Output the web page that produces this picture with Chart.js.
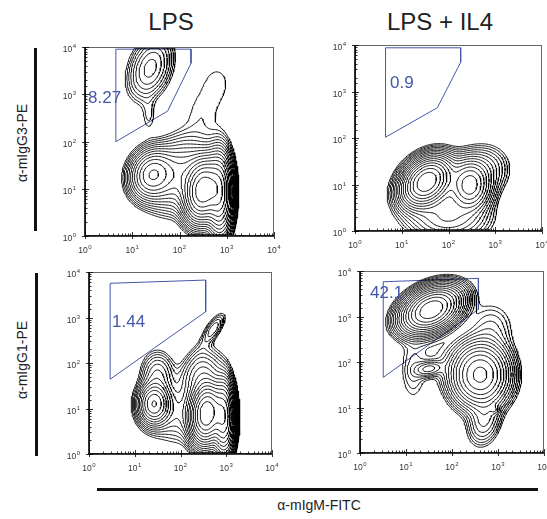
<!DOCTYPE html>
<html>
<head>
<meta charset="utf-8">
<script src="https://cdn.jsdelivr.net/npm/chart.js@4/dist/chart.umd.min.js"></script>
<style>
  body { margin: 0; background: #fff; font-family: "Liberation Sans", Arial, sans-serif; }
  #page { position: relative; width: 547px; height: 519px; overflow: hidden; }
  .abs { position: absolute; }
  .title { font-size: 24px; color: #222; transform: translateX(-50%); white-space: nowrap; }
  .ylab { font-size: 14px; color: #222; white-space: nowrap; transform: translate(-50%, -50%) rotate(-90deg); }
  .bar { background: #111; }
</style>
</head>
<body>
<div id="page"></div>
<script>
// labels
const panelTitles = ["LPS", "LPS + IL4"];
const yTitles = ["α-mIgG3-PE", "α-mIgG1-PE"];
const xTitle = "α-mIgM-FITC";
const tickExponents = { 1: "0", 10: "1", 100: "2", 1000: "3", 10000: "4" };

// cell populations, in log10 units:
// [centre x, centre y, spread x, spread y, correlation, relative peak height]
const lpsG3Pops = [
  [2.5, 0.97, 0.2, 0.33, 0.15, 1.0],
  [2.85, 0.9, 0.14, 0.45, 0.0, 0.5],
  [1.42, 1.3, 0.24, 0.27, 0.1, 0.3],
  [2.0, 1.3, 0.36, 0.4, 0.2, 0.13],
  [2.45, 2.55, 0.3, 0.4, 0.0, 0.0095],
  [2.8, 3.25, 0.3, 0.4, 0.0, 0.0095],
  [1.38, 3.55, 0.25, 0.36, 0.3, 0.08],
  [1.35, 2.55, 0.1, 0.25, 0.0, 0.012]
];
const il4G3Pops = [
  [1.53, 1.06, 0.26, 0.26, 0.3, 1.0],
  [2.46, 0.99, 0.22, 0.28, 0.0, 0.35],
  [1.9, 0.85, 0.5, 0.38, 0.1, 0.06],
  [2.8, 1.35, 0.28, 0.28, 0.0, 0.04],
  [2.0, 0.25, 0.45, 0.25, 0.0, 0.08]
];
const lpsG1Pops = [
  [1.42, 1.1, 0.18, 0.24, 0.0, 0.3],
  [2.57, 0.89, 0.18, 0.33, 0.1, 1.0],
  [2.95, 0.8, 0.12, 0.42, 0.0, 0.5],
  [1.5, 1.75, 0.2, 0.28, 0.0, 0.05],
  [2.45, 1.75, 0.25, 0.3, 0.2, 0.07],
  [2.72, 2.75, 0.15, 0.2, 0.7, 0.035],
  [2.45, 2.25, 0.15, 0.22, 0.5, 0.006],
  [2.0, 0.9, 0.45, 0.38, 0.0, 0.035]
];
const il4G1Pops = [
  [1.55, 3.15, 0.32, 0.25, 0.35, 1.0],
  [2.61, 1.72, 0.32, 0.36, 0.0, 0.45],
  [1.5, 1.85, 0.18, 0.1, 0.2, 0.05],
  [1.15, 1.8, 0.18, 0.45, 0.0, 0.015],
  [2.7, 0.7, 0.2, 0.3, 0.2, 0.05],
  [2.85, 2.75, 0.3, 0.35, 0.0, 0.02],
  [1.6, 2.2, 0.35, 0.4, 0.0, 0.008],
  [2.93, 0.95, 0.05, 0.05, 0.0, 0.03]
];

// gates (x, y in channel units) and the percentages printed in them
const lpsG3Gate = [[4.5, 9000], [175, 9000], [175, 4500], [56, 440], [4.5, 99]];
const il4G3Gate = [[4.5, 8700], [182, 8700], [182, 4250], [58, 450], [4.5, 104]];
const lpsG1Gate = [[2.9, 5650], [355, 6650], [355, 1340], [2.9, 44]];
const il4G1Gate = [[3.2, 5800], [375, 6900], [375, 1440], [3.2, 46]];
const gatePercents = ["8.27", "0.9", "1.44", "42.1"];
const gateLabelAt = [[1.16, 830], [5.6, 1500], [3.2, 800], [1.65, 3240]];

const gateColor = "#4357a6";
const page = document.getElementById("page");

function addDiv(cls, text, css) {
  const d = document.createElement("div");
  d.className = "abs " + cls;
  d.textContent = text;
  Object.assign(d.style, css);
  page.appendChild(d);
  return d;
}

// density on a grid in log space, then marching squares
const LO = -0.06, HI = 4.06, N = 140, STEP = (HI - LO) / N;

function densityGrid(pops) {
  const g = [];
  let max = 0;
  for (let j = 0; j <= N; j++) {
    const row = [];
    const y = LO + j * STEP;
    for (let i = 0; i <= N; i++) {
      const x = LO + i * STEP;
      let v = 0;
      if (x >= 0 && y >= 0 && x <= 4 && y <= 4) {
        for (const [mx, my, sx, sy, r, w] of pops) {
          const dx = (x - mx) / sx, dy = (y - my) / sy;
          const q = (dx * dx - 2 * r * dx * dy + dy * dy) / (1 - r * r);
          v += w * Math.exp(-q / 2);
        }
      }
      if (v > max) max = v;
      row.push(v);
    }
    g.push(row);
  }
  return { g, max };
}

const caseEdges = {
  1: [[3, 0]], 2: [[0, 1]], 3: [[3, 1]], 4: [[1, 2]], 6: [[0, 2]], 7: [[3, 2]],
  8: [[2, 3]], 9: [[0, 2]], 11: [[1, 2]], 12: [[1, 3]], 13: [[0, 1]], 14: [[3, 0]]
};

function contourLines(g, level) {
  const segs = [];
  const pts = {};
  for (let j = 0; j < N; j++) {
    for (let i = 0; i < N; i++) {
      const a = g[j][i], b = g[j][i + 1], c = g[j + 1][i + 1], d = g[j + 1][i];
      const idx = (a > level ? 1 : 0) | (b > level ? 2 : 0) | (c > level ? 4 : 0) | (d > level ? 8 : 0);
      if (idx === 0 || idx === 15) continue;
      let pairs = caseEdges[idx];
      if (idx === 5 || idx === 10) {
        const mid = (a + b + c + d) / 4;
        const joined = mid > level;
        if (idx === 5) pairs = joined ? [[3, 2], [0, 1]] : [[3, 0], [1, 2]];
        else pairs = joined ? [[0, 3], [1, 2]] : [[0, 1], [2, 3]];
      }
      const edge = (e) => {
        let key, x, y, t;
        if (e === 0) { t = (level - a) / (b - a); key = "h" + i + "_" + j; x = i + t; y = j; }
        else if (e === 1) { t = (level - b) / (c - b); key = "v" + (i + 1) + "_" + j; x = i + 1; y = j + t; }
        else if (e === 2) { t = (level - d) / (c - d); key = "h" + i + "_" + (j + 1); x = i + t; y = j + 1; }
        else { t = (level - a) / (d - a); key = "v" + i + "_" + j; x = i; y = j + t; }
        pts[key] = [x, y];
        return key;
      };
      for (const [e1, e2] of pairs) segs.push([edge(e1), edge(e2)]);
    }
  }
  // chain segments into polylines
  const byKey = {};
  segs.forEach((s, k) => { for (const key of s) (byKey[key] = byKey[key] || []).push(k); });
  const used = new Array(segs.length).fill(false);
  const lines = [];
  const walk = (line, key) => {
    while (true) {
      const next = (byKey[key] || []).find(k => !used[k]);
      if (next === undefined) break;
      used[next] = true;
      key = segs[next][0] === key ? segs[next][1] : segs[next][0];
      line.push(key);
    }
  };
  segs.forEach((s, k) => {
    if (used[k]) return;
    used[k] = true;
    const fwd = [s[0], s[1]];
    walk(fwd, s[1]);
    const back = [s[0]];
    walk(back, s[0]);
    const keys = back.reverse().concat(fwd.slice(1));
    lines.push(keys.map(key => {
      const [gx, gy] = pts[key];
      return { x: Math.pow(10, LO + gx * STEP), y: Math.pow(10, LO + gy * STEP) };
    }));
  });
  return lines;
}

const isMajor = v => Math.abs(Math.log10(v) - Math.round(Math.log10(v))) < 1e-9;

// frame, inward minor ticks and "10^n" tick labels
const frameTicks = {
  id: "frameTicks",
  afterDraw(chart) {
    const { ctx, chartArea: a, scales: { x, y } } = chart;
    ctx.save();
    ctx.strokeStyle = "#666";
    ctx.lineWidth = 1;
    ctx.strokeRect(a.left + 0.5, a.top + 0.5, a.right - a.left - 1, a.bottom - a.top - 1);
    ctx.strokeStyle = "#000";
    ctx.lineWidth = 1.6;
    ctx.beginPath();
    ctx.moveTo(a.left, a.top);
    ctx.lineTo(a.left, a.bottom);
    ctx.lineTo(a.right, a.bottom);
    ctx.stroke();
    ctx.lineWidth = 0.8;
    ctx.beginPath();
    x.ticks.forEach(t => {
      const px = Math.round(x.getPixelForValue(t.value)) + 0.5;
      const major = isMajor(t.value);
      ctx.moveTo(px, a.bottom + (major ? 3 : 0));
      ctx.lineTo(px, a.bottom - (major ? 4 : 2.5));
    });
    y.ticks.forEach(t => {
      const py = Math.round(y.getPixelForValue(t.value)) + 0.5;
      const major = isMajor(t.value);
      ctx.moveTo(a.left - (major ? 3 : 0), py);
      ctx.lineTo(a.left + (major ? 4 : 2.5), py);
    });
    ctx.stroke();

    ctx.fillStyle = "#333";
    ctx.textBaseline = "alphabetic";
    const base = "8.5px 'Liberation Sans', Arial, sans-serif";
    const sup = "6px 'Liberation Sans', Arial, sans-serif";
    const drawLabel = (v, right, cx, baseY) => {
      const e = tickExponents[v];
      ctx.font = base;
      const w1 = ctx.measureText("10").width;
      ctx.font = sup;
      const w2 = ctx.measureText(e).width + 0.5;
      const left = right ? cx - w1 - w2 : cx - (w1 + w2) / 2;
      ctx.font = base;
      ctx.fillText("10", left, baseY);
      ctx.font = sup;
      ctx.fillText(e, left + w1 + 0.5, baseY - 4);
    };
    x.ticks.forEach(t => {
      if (tickExponents[t.value] === undefined) return;
      drawLabel(t.value, false, x.getPixelForValue(t.value), a.bottom + 17);
    });
    y.ticks.forEach(t => {
      if (tickExponents[t.value] === undefined) return;
      drawLabel(t.value, true, a.left - 9, y.getPixelForValue(t.value) + 5);
    });
    ctx.restore();
  }
};

const gateText = {
  id: "gateText",
  afterDatasetsDraw(chart) {
    const o = chart.options.plugins.gateText;
    const { ctx, scales: { x, y } } = chart;
    ctx.save();
    ctx.fillStyle = gateColor;
    ctx.font = "17px 'Liberation Sans', Arial, sans-serif";
    ctx.textBaseline = "middle";
    ctx.fillText(o.text, x.getPixelForValue(o.at[0]), y.getPixelForValue(o.at[1]));
    ctx.restore();
  }
};

function makePanel(box, pops, gate, label, labelAt) {
  const [L, T, W, H] = box;
  const canvas = document.createElement("canvas");
  canvas.width = W + 47;
  canvas.height = H + 28;
  canvas.className = "abs";
  canvas.style.left = (L - 35) + "px";
  canvas.style.top = (T - 8) + "px";
  page.appendChild(canvas);

  const { g, max } = densityGrid(pops);
  const datasets = [];
  for (let k = 1; k <= 16; k++) {
    const level = max * Math.pow(0.74, k);
    for (const line of contourLines(g, level)) {
      datasets.push({ data: line, showLine: true, borderColor: "#000", borderWidth: 0.9, pointRadius: 0, tension: 0 });
    }
  }
  datasets.push({
    data: gate.concat([gate[0]]).map(([x, y]) => ({ x, y })),
    showLine: true, borderColor: gateColor, borderWidth: 1, pointRadius: 0, tension: 0
  });

  new Chart(canvas, {
    type: "scatter",
    data: { datasets },
    options: {
      responsive: false,
      animation: false,
      events: [],
      layout: { padding: { top: 8, right: 12, left: 0, bottom: 0 } },
      plugins: { legend: { display: false }, tooltip: { enabled: false }, gateText: { text: label, at: labelAt } },
      scales: {
        x: {
          type: "logarithmic", min: 1, max: 10000,
          grid: { display: false }, border: { display: false },
          afterFit: s => { s.height = 20; },
          ticks: { display: false, autoSkip: false }
        },
        y: {
          type: "logarithmic", min: 1, max: 10000,
          grid: { display: false }, border: { display: false },
          afterFit: s => { s.width = 35; },
          ticks: { display: false, autoSkip: false }
        }
      }
    },
    plugins: [frameTicks, gateText]
  });
}

makePanel([85, 47, 189, 189], lpsG3Pops, lpsG3Gate, gatePercents[0], gateLabelAt[0]);
makePanel([355, 45, 187, 186], il4G3Pops, il4G3Gate, gatePercents[1], gateLabelAt[1]);
makePanel([89, 272, 183, 182], lpsG1Pops, lpsG1Gate, gatePercents[2], gateLabelAt[2]);
makePanel([360, 271, 184, 182], il4G1Pops, il4G1Gate, gatePercents[3], gateLabelAt[3]);

// titles, side labels and bars
addDiv("title", panelTitles[0], { left: "171px", top: "8px" });
addDiv("title", panelTitles[1], { left: "440px", top: "8px" });
addDiv("ylab", yTitles[0], { left: "22px", top: "143px" });
addDiv("ylab", yTitles[1], { left: "22px", top: "360px" });
addDiv("bar", "", { left: "34px", top: "48px", width: "3px", height: "183px" });
addDiv("bar", "", { left: "35px", top: "273px", width: "3px", height: "183px" });
addDiv("bar", "", { left: "97px", top: "488px", width: "441px", height: "3px" });
addDiv("title", xTitle, { left: "319px", top: "497px", fontSize: "14px" });
</script>
</body>
</html>
